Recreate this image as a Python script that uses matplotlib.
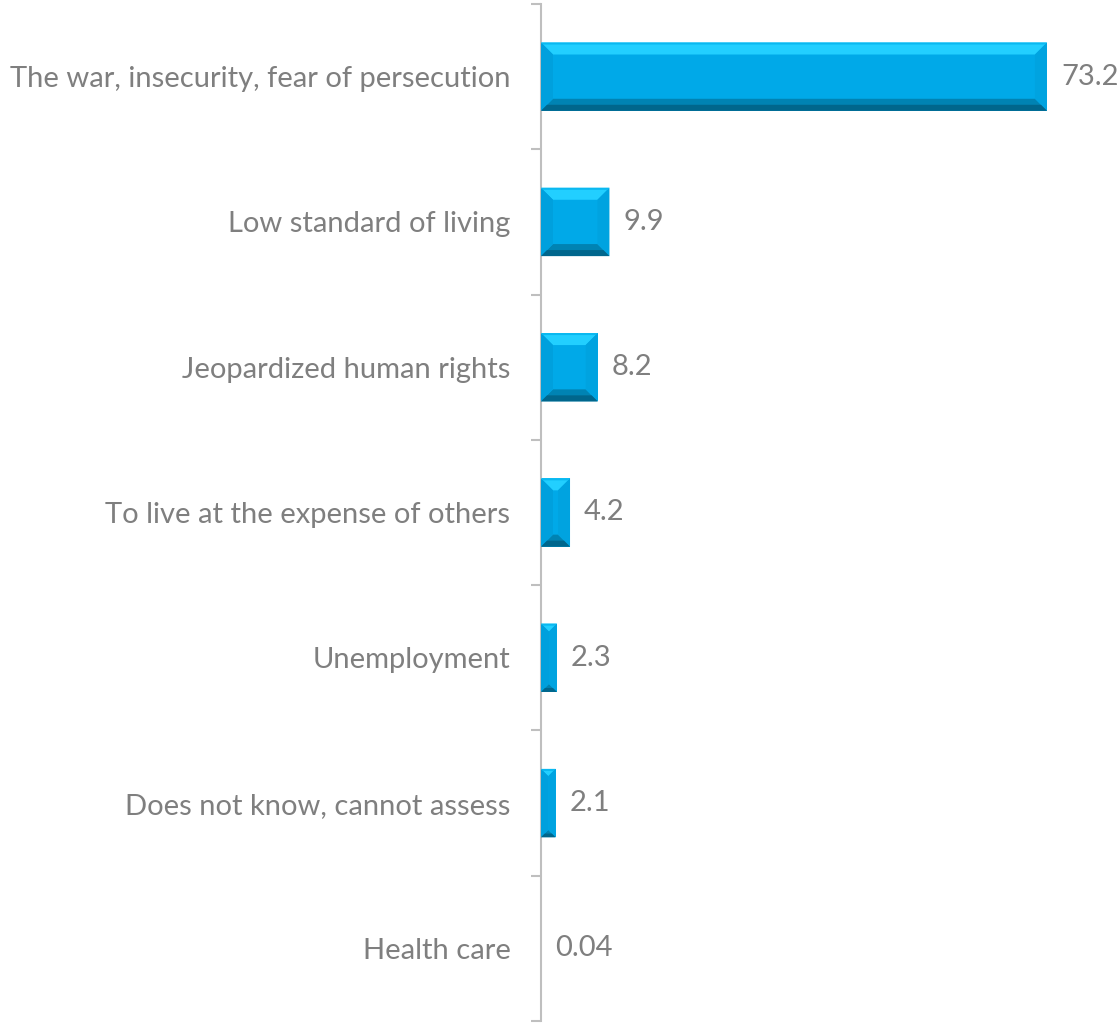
import numpy as np
import matplotlib
matplotlib.use("Agg")
from matplotlib import pyplot as plt
from matplotlib.patches import Polygon

# Data
categories = [
    "The war, insecurity, fear of persecution",
    "Low standard of living",
    "Jeopardized human rights",
    "To live at the expense of others",
    "Unemployment",
    "Does not know, cannot assess",
    "Health care",
]
values = [73.2, 9.9, 8.2, 4.2, 2.3, 2.1, 0.04]
value_labels = ["73.2", "9.9", "8.2", "4.2", "2.3", "2.1", "0.04"]

plt.rcParams['font.family'] = ['Lato', 'DejaVu Sans']
text_color = '#7F7F7F'
axis_color = '#BFBFBF'
fsize = 21

fig = plt.figure(figsize=(11.19, 10.24), dpi=100)
ax = fig.add_axes([541 / 1119, 3 / 1024, 553 / 1119, 1017 / 1024])

y = np.arange(len(categories))
bar_h = 0.47
face = '#00A9E8'
bars = ax.barh(y, values, height=bar_h, color=face, edgecolor='none', zorder=2)

ax.set_xlim(0, 80)
ax.set_ylim(len(categories) - 0.5, -0.5)

# bevel effect, drawn over each bar (bevel size in pixels)
to_disp = ax.transData
to_data = ax.transData.inverted()
bevel_px = 12
for b in bars:
    x0, y0 = b.get_x(), b.get_y()
    x1, y1 = x0 + b.get_width(), y0 + b.get_height()
    (px0, py0), (px1, py1) = to_disp.transform([(x0, y0), (x1, y1)])
    lo_x, hi_x = min(px0, px1), max(px0, px1)
    lo_y, hi_y = min(py0, py1), max(py0, py1)
    w, h = hi_x - lo_x, hi_y - lo_y
    if w < 1:
        continue
    d = min(bevel_px, w / 2, h / 2)
    tl, tr = (lo_x, hi_y), (hi_x, hi_y)
    bl, br = (lo_x, lo_y), (hi_x, lo_y)
    itl, itr = (lo_x + d, hi_y - d), (hi_x - d, hi_y - d)
    ibl, ibr = (lo_x + d, lo_y + d), (hi_x - d, lo_y + d)
    pieces = [
        ([tl, tr, itr, itl], '#22CFFF'),   # top
        ([bl, br, ibr, ibl], '#0083B3'),   # bottom
        ([tl, bl, ibl, itl], '#00A0DD'),   # left
        ([tr, br, ibr, itr], '#00A3E0'),   # right
    ]
    for pts, col in pieces:
        poly = Polygon(to_data.transform(pts), closed=True, facecolor=col,
                       edgecolor='none', zorder=3)
        ax.add_patch(poly)
    # darker lower strip of bottom bevel
    strip = [bl, br, (hi_x - d / 2, lo_y + d / 2), (lo_x + d / 2, lo_y + d / 2)]
    ax.add_patch(Polygon(to_data.transform(strip), closed=True,
                         facecolor='#00668C', edgecolor='none', zorder=3))
    # light line along the very top
    top_line = [tl, tr, (hi_x - 2, hi_y - 2), (lo_x + 2, hi_y - 2)]
    ax.add_patch(Polygon(to_data.transform(top_line), closed=True,
                         facecolor='#0AB8F0', edgecolor='none', zorder=3))

# value labels
for yi, v, lab in zip(y, values, value_labels):
    ax.annotate(lab, (v, yi), xytext=(10, 0), textcoords='offset points',
                va='center', ha='left', fontsize=fsize, color=text_color)

# axes styling
for s in ['top', 'right', 'bottom']:
    ax.spines[s].set_visible(False)
ax.spines['left'].set_color(axis_color)
ax.spines['left'].set_linewidth(1.5)
ax.set_xticks([])

ax.set_yticks(np.arange(len(categories) + 1) - 0.5)
ax.set_yticklabels([])
ax.tick_params(axis='y', which='major', length=7.5, width=1.5, color=axis_color,
               direction='out')
ax.set_yticks(y, minor=True)
ax.set_yticklabels(categories, minor=True, fontsize=fsize, color=text_color)
ax.tick_params(axis='y', which='minor', length=0, pad=22)

fig.savefig('out.png', dpi=100)
